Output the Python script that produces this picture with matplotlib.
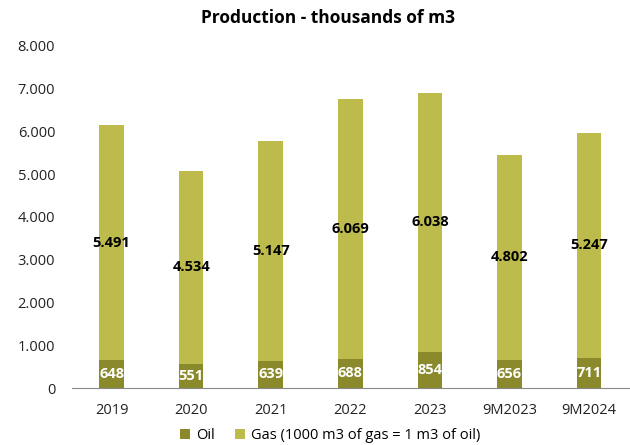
import matplotlib
matplotlib.use("Agg")
import matplotlib.pyplot as plt
from matplotlib.ticker import FuncFormatter

categories = ["2019", "2020", "2021", "2022", "2023", "9M2023", "9M2024"]
oil = [648, 551, 639, 688, 854, 656, 711]
gas = [5491, 4534, 5147, 6069, 6038, 4802, 5247]

plt.rcParams['font.family'] = ['Open Sans', 'DejaVu Sans']
oil_color = "#8a8a2c"
gas_color = "#bdbb4b"

fig = plt.figure(figsize=(6.3, 4.45), dpi=100)
ax = fig.add_axes([0.114, 0.128, 0.884, 0.769])
x = list(range(len(categories)))
w = 0.31
ax.bar(x, oil, width=w, color=oil_color, label="Oil")
ax.bar(x, gas, width=w, bottom=oil, color=gas_color, label="Gas (1000 m3 of gas = 1 m3 of oil)")
for i in x:
    ax.text(i, oil[i] / 2, f"{oil[i]}", ha="center", va="center", color="white",
            fontsize=10.5, fontweight="bold")
    ax.text(i, oil[i] + gas[i] / 2, f"{gas[i]/1000:.3f}", ha="center", va="center",
            color="black", fontsize=10.5, fontweight="bold")
ax.set_xlim(-0.5, len(categories) - 0.5)
ax.set_ylim(0, 8000)
ax.set_yticks(range(0, 8001, 1000))
ax.yaxis.set_major_formatter(FuncFormatter(lambda v, p: f"{int(v):,}".replace(",", ".")))
ax.set_xticks(x)
ax.set_xticklabels(categories)
for s in ["top", "right", "left"]:
    ax.spines[s].set_visible(False)
ax.spines["bottom"].set_color("#888888")
ax.tick_params(axis="both", length=0, labelsize=10.5, colors="#222222")
ax.tick_params(axis="y", pad=12)
ax.tick_params(axis="x", pad=11)
fig.text(328 / 630, 1 - 18 / 445, "Production - thousands of m3", ha="center", va="center",
         fontsize=12.5, fontweight="bold")
fig.legend(loc="lower center", bbox_to_anchor=(0.524, -0.026), ncol=2, frameon=False,
           fontsize=10.5, handlelength=0.7, handleheight=0.7, handletextpad=0.4,
           columnspacing=1.4)
fig.savefig("out.png", dpi=100)
